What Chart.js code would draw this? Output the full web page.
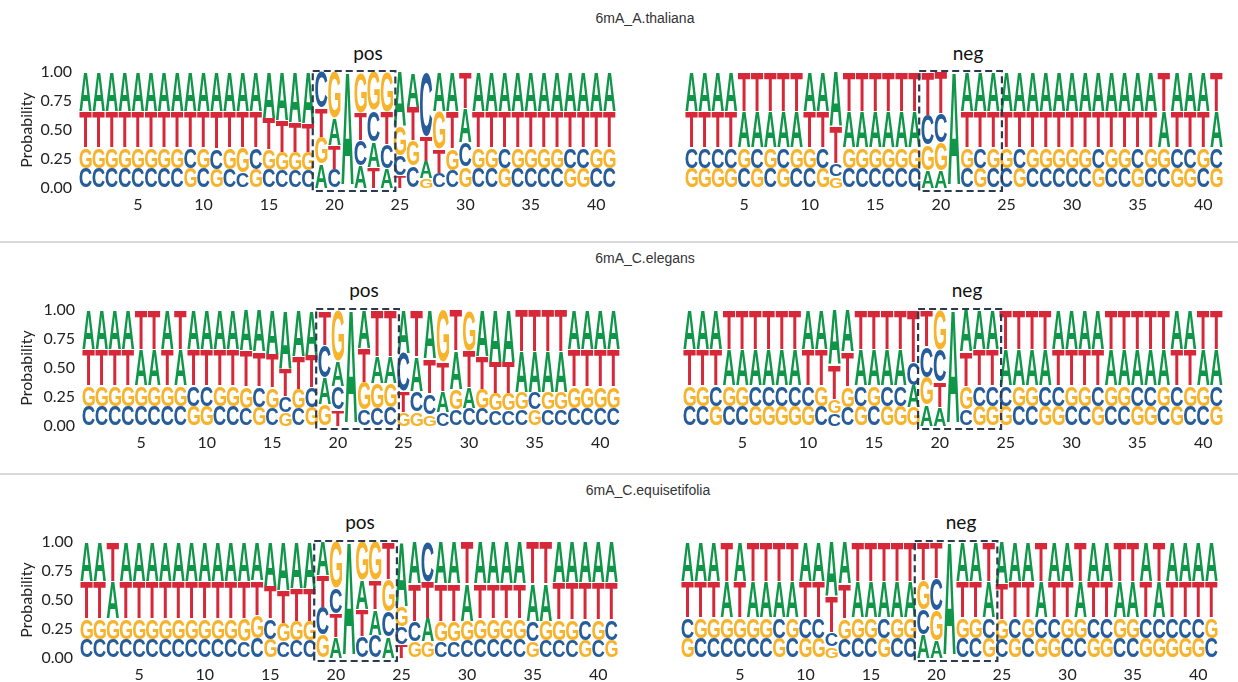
<!DOCTYPE html>
<html><head><meta charset="utf-8">
<script src="https://cdn.jsdelivr.net/npm/chart.js@4.4.1/dist/chart.umd.min.js"></script>
<style>
body{margin:0;background:#fff;width:1238px;height:682px;overflow:hidden;position:relative;font-family:Lato,"Open Sans",sans-serif;}
.pbox{position:absolute;}
.title{position:absolute;font-family:"Liberation Sans",Arial,sans-serif;font-size:14px;line-height:14px;color:#333;transform:translate(-50%,-50%);white-space:nowrap}
.sub{position:absolute;font-family:Lato,sans-serif;font-size:19px;line-height:19px;color:#111;transform:translate(-50%,-50%);white-space:nowrap}
.sep{position:absolute;left:0;width:1238px;height:2px;background:#d9d9d9}
</style></head><body>
<script>
// ---------- data ----------
const positions = Array.from({length:41},(_,i)=>String(i+1));
const xTickLabels = ['5','10','15','20','25','30','35','40'];
const yTickLabels = ['0.00','0.25','0.50','0.75','1.00'];
const panelTitles = ['6mA_A.thaliana','6mA_C.elegans','6mA_C.equisetifolia'];
const subTitles = ['pos','neg'];

// 6mA_A.thaliana pos
const athPosA = [.34,.34,.34,.34,.34,.34,.34,.34,.34,.34,.34,.34,.34,.34,.40,.42,.43,.44,.21,.23,.97,.19,.22,.17,.47,.30,.15,.34,.34,.30,.34,.34,.34,.34,.34,.34,.34,.34,.34,.34,.34];
const athPosC = [.17,.17,.17,.17,.17,.17,.17,.17,.18,.17,.18,.16,.13,.19,.16,.15,.15,.15,.31,.16,.01,.22,.27,.21,.17,.19,.55,.13,.15,.21,.17,.17,.18,.17,.17,.17,.17,.18,.18,.17,.17];
const athPosG = [.18,.18,.18,.18,.18,.18,.18,.18,.17,.18,.16,.19,.22,.16,.17,.16,.16,.16,.23,.40,.01,.35,.33,.34,.25,.22,.08,.32,.19,.18,.18,.18,.17,.18,.18,.18,.18,.17,.17,.18,.18];
const athPosT = [.31,.31,.31,.31,.31,.31,.31,.31,.31,.31,.32,.31,.31,.31,.27,.27,.26,.25,.25,.21,.01,.24,.18,.28,.11,.29,.22,.21,.32,.31,.31,.31,.31,.31,.31,.31,.31,.31,.31,.31,.31];
// 6mA_A.thaliana neg
const athNegA = [.34,.34,.34,.34,.31,.31,.31,.31,.31,.34,.34,.47,.31,.31,.31,.31,.31,.31,.15,.15,.97,.34,.34,.34,.34,.34,.34,.34,.34,.34,.34,.34,.34,.34,.34,.34,.31,.34,.34,.34,.31];
const athNegC = [.18,.18,.18,.18,.17,.18,.17,.18,.17,.17,.18,.11,.17,.17,.17,.17,.17,.17,.26,.25,.01,.17,.18,.17,.17,.18,.17,.17,.17,.17,.17,.18,.17,.17,.18,.17,.17,.18,.18,.17,.18];
const athNegG = [.17,.17,.17,.17,.18,.17,.18,.17,.18,.18,.17,.10,.18,.18,.18,.18,.18,.18,.22,.24,.01,.18,.17,.18,.18,.17,.18,.18,.18,.18,.18,.17,.18,.18,.17,.18,.18,.17,.17,.18,.17];
const athNegT = [.31,.31,.31,.31,.34,.34,.34,.34,.34,.31,.31,.32,.34,.34,.34,.34,.34,.34,.37,.36,.01,.31,.31,.31,.31,.31,.31,.31,.31,.31,.31,.31,.31,.31,.31,.31,.34,.31,.31,.31,.34];
// 6mA_C.elegans pos
const celPosA = [.34,.34,.34,.34,.31,.31,.34,.31,.34,.34,.34,.34,.35,.36,.38,.50,.40,.39,.23,.22,.97,.33,.23,.23,.37,.30,.42,.18,.33,.18,.40,.45,.45,.35,.35,.35,.35,.34,.34,.34,.34];
const celPosC = [.17,.17,.17,.17,.17,.17,.17,.17,.18,.18,.17,.17,.15,.18,.15,.14,.15,.17,.28,.20,.01,.14,.15,.16,.33,.18,.18,.12,.14,.15,.15,.13,.13,.14,.15,.14,.14,.15,.15,.15,.15];
const celPosG = [.18,.18,.18,.18,.18,.18,.18,.18,.17,.17,.18,.18,.19,.16,.18,.12,.17,.16,.19,.44,.01,.24,.22,.21,.12,.12,.10,.45,.18,.35,.17,.15,.15,.15,.14,.15,.15,.19,.19,.19,.19];
const celPosT = [.31,.31,.31,.31,.34,.34,.31,.34,.31,.31,.31,.31,.31,.30,.29,.24,.28,.28,.30,.14,.01,.29,.40,.40,.18,.40,.30,.25,.35,.32,.28,.27,.27,.36,.36,.36,.36,.32,.32,.32,.32];
// 6mA_C.elegans neg
const celNegA = [.34,.34,.34,.31,.31,.31,.31,.31,.31,.34,.34,.47,.36,.31,.31,.31,.31,.19,.18,.16,.97,.36,.34,.34,.31,.31,.31,.31,.34,.34,.34,.34,.31,.31,.31,.31,.31,.34,.34,.31,.31];
const celNegC = [.17,.17,.18,.17,.17,.18,.18,.18,.18,.18,.17,.11,.16,.18,.17,.18,.18,.20,.27,.28,.01,.14,.18,.18,.18,.17,.17,.18,.18,.17,.17,.18,.17,.17,.18,.18,.17,.18,.17,.17,.18];
const celNegG = [.18,.18,.17,.18,.18,.17,.17,.17,.17,.17,.18,.12,.18,.17,.18,.17,.17,.16,.24,.34,.01,.20,.17,.17,.17,.18,.18,.17,.17,.18,.18,.17,.18,.18,.17,.17,.18,.17,.18,.18,.17];
const celNegT = [.31,.31,.31,.34,.34,.34,.34,.34,.34,.31,.31,.30,.30,.34,.34,.34,.34,.45,.31,.22,.01,.30,.31,.31,.34,.34,.34,.34,.31,.31,.31,.31,.34,.34,.34,.34,.34,.31,.31,.34,.34];
// 6mA_C.equisetifolia pos
const equPosA = [.34,.34,.32,.34,.34,.34,.34,.34,.34,.34,.34,.34,.34,.33,.38,.42,.40,.40,.29,.18,.97,.25,.22,.18,.55,.36,.20,.36,.36,.32,.36,.36,.36,.36,.32,.32,.35,.35,.35,.35,.35];
const equPosC = [.16,.16,.16,.16,.16,.16,.16,.16,.16,.16,.16,.16,.14,.17,.18,.14,.15,.15,.24,.22,.01,.19,.20,.22,.15,.18,.34,.14,.14,.15,.16,.16,.16,.16,.18,.15,.15,.15,.18,.15,.18];
const equPosG = [.18,.18,.18,.18,.18,.18,.18,.18,.18,.18,.18,.18,.20,.20,.16,.16,.17,.17,.20,.40,.01,.33,.33,.28,.18,.14,.14,.18,.18,.17,.18,.18,.18,.18,.14,.17,.18,.18,.15,.18,.15];
const equPosT = [.32,.32,.34,.32,.32,.32,.32,.32,.32,.32,.32,.32,.32,.30,.28,.28,.28,.28,.27,.20,.01,.23,.25,.32,.12,.32,.32,.32,.32,.36,.30,.30,.30,.30,.36,.36,.32,.32,.32,.32,.32];
// 6mA_C.equisetifolia neg
const equNegA = [.34,.34,.34,.31,.34,.31,.31,.31,.31,.34,.34,.47,.36,.31,.31,.31,.31,.31,.20,.15,.97,.34,.34,.31,.36,.34,.34,.31,.34,.34,.31,.34,.34,.31,.31,.34,.31,.34,.34,.34,.34];
const equNegC = [.18,.17,.17,.17,.17,.17,.17,.18,.17,.18,.18,.12,.16,.17,.17,.18,.17,.17,.22,.28,.01,.17,.17,.18,.16,.18,.17,.18,.18,.17,.17,.18,.18,.17,.17,.18,.18,.18,.18,.18,.17];
const equNegG = [.17,.18,.18,.18,.18,.18,.18,.17,.18,.17,.17,.10,.18,.18,.18,.17,.18,.18,.25,.26,.01,.18,.18,.17,.17,.17,.18,.17,.17,.18,.18,.17,.17,.18,.18,.17,.17,.17,.17,.17,.18];
const equNegT = [.31,.31,.31,.34,.31,.34,.34,.34,.34,.31,.31,.31,.30,.34,.34,.34,.34,.34,.33,.31,.01,.31,.31,.34,.31,.31,.31,.34,.31,.31,.34,.31,.31,.34,.34,.31,.34,.31,.31,.31,.31];

const letterColors = {A:'#109648', C:'#255C99', G:'#F7B32B', T:'#D62839'};
const boxFrom = 19, boxTo = 24;

// ---------- layout ----------
const panels = [
  {d:[athPosA,athPosC,athPosG,athPosT], area:{l:79,t:72,r:616,b:188}, axis:true},
  {d:[athNegA,athNegC,athNegG,athNegT], area:{l:685,t:72,r:1223,b:188}, axis:false},
  {d:[celPosA,celPosC,celPosG,celPosT], area:{l:82,t:310,r:620,b:426}, axis:true},
  {d:[celNegA,celNegC,celNegG,celNegT], area:{l:683,t:310,r:1223,b:426}, axis:false},
  {d:[equPosA,equPosC,equPosG,equPosT], area:{l:80,t:542,r:618,b:658}, axis:true},
  {d:[equNegA,equNegC,equNegG,equNegT], area:{l:681,t:542,r:1218,b:658}, axis:false}
];
const titlePos = [[645,18],[645,258],[648,490]];
const subPos = [[[368,52],[968,52]],[[364,289],[967,289]],[[360,521],[961,521]]];
const sepY = [241,473];
const PADT = 22;

function addDiv(cls, txt, x, y){
  const d=document.createElement('div'); d.className=cls; d.textContent=txt;
  d.style.left=x+'px'; d.style.top=y+'px'; document.body.appendChild(d);
}
panelTitles.forEach((t,i)=>addDiv('title',t,titlePos[i][0],titlePos[i][1]));
subPos.forEach(r=>r.forEach((p,j)=>addDiv('sub',subTitles[j],p[0],p[1])));
sepY.forEach(y=>{const s=document.createElement('div');s.className='sep';s.style.top=y+'px';document.body.appendChild(s);});

const metricsCache={};
function drawLetter(ctx, ch, x, y, w, h){
  ctx.font='bold 100px "Liberation Sans", Arial, sans-serif';
  let m=metricsCache[ch];
  if(!m){const t=ctx.measureText(ch); m={l:t.actualBoundingBoxLeft,r:t.actualBoundingBoxRight,a:t.actualBoundingBoxAscent,d:t.actualBoundingBoxDescent}; metricsCache[ch]=m;}
  const gw=m.l+m.r, gh=m.a+m.d;
  ctx.save();
  ctx.translate(x,y);
  ctx.scale(w/gw,h/gh);
  ctx.fillStyle=letterColors[ch];
  ctx.textBaseline='alphabetic'; ctx.textAlign='left';
  ctx.fillText(ch,m.l,m.a);
  ctx.restore();
}

const logoPlugin={
  id:'logo',
  afterDatasetsDraw(chart){
    const ctx=chart.ctx; const L=chart.canvas.$letters;
    if(!L) return;
    chart.data.datasets.forEach((ds,di)=>{
      const meta=chart.getDatasetMeta(di);
      meta.data.forEach((el,i)=>{
        const p=el.getProps(['x','y','base','width'],true);
        const top=Math.min(p.y,p.base), h=Math.abs(p.base-p.y);
        if(h<2) return;
        drawLetter(ctx,L[di][i],p.x-p.width/2,top+0.3,p.width,h-0.6);
      });
    });
    // dashed box
    const xs=chart.scales.x, ys=chart.scales.y;
    const cw=xs.getPixelForValue(1)-xs.getPixelForValue(0);
    const l=xs.getPixelForValue(boxFrom-1)-cw/2-2, r=xs.getPixelForValue(boxTo-1)+cw/2+2;
    const t=ys.getPixelForValue(1)-1, b=ys.getPixelForValue(0)+3;
    ctx.save(); ctx.strokeStyle='#2b3a4c'; ctx.lineWidth=2.2; ctx.setLineDash([7,4]);
    ctx.strokeRect(l,t,r-l,b-t); ctx.restore();
  }
};

panels.forEach((pn,pi)=>{
  const a=pn.area;
  const left = pn.axis?0:a.l-10;
  const top=a.t-PADT;
  const width=(a.r+10)-left, height=(a.b+36)-top;
  const box=document.createElement('div'); box.className='pbox';
  Object.assign(box.style,{left:left+'px',top:top+'px',width:width+'px',height:height+'px'});
  const cv=document.createElement('canvas'); box.appendChild(cv); document.body.appendChild(box);
  // sort letters per position: smallest at bottom
  const names=['A','C','G','T'];
  const rankVals=[[],[],[],[]], rankLet=[[],[],[],[]];
  positions.forEach((_,i)=>{
    const arr=names.map((n,k)=>({n,v:pn.d[k][i]})).sort((p,q)=>p.v-q.v);
    arr.forEach((o,k)=>{rankVals[k].push(o.v); rankLet[k].push(o.n);});
  });
  cv.$letters=rankLet;
  const yScale={stacked:true,display:pn.axis,min:0,max:1,grid:{display:false,drawTicks:false},border:{display:false},
    ticks:{stepSize:0.25,padding:7,color:'#222',font:{family:'Lato',size:16},callback:v=>yTickLabels[Math.round(v*4)]},
    title:{display:true,text:'Probability',color:'#222',font:{family:'Lato',size:16},padding:{top:17,bottom:0}}};
  if(pn.axis) yScale.afterFit=s=>{s.width=a.l;};
  new Chart(cv,{
    type:'bar',
    data:{labels:positions, datasets:rankVals.map(v=>({data:v,backgroundColor:'rgba(0,0,0,0)',borderWidth:0,categoryPercentage:1,barPercentage:0.94}))},
    options:{
      responsive:true, maintainAspectRatio:false, animation:false, devicePixelRatio:1,
      layout:{padding:{left:pn.axis?0:10,top:PADT,right:10,bottom:0}},
      plugins:{legend:{display:false},tooltip:{enabled:false},title:{display:false}},
      scales:{
        x:{stacked:true,offset:true,grid:{display:false,drawTicks:false},border:{display:false},
           ticks:{autoSkip:false,maxRotation:0,padding:7,color:'#222',font:{family:'Lato',size:16},
             callback:(v,i)=>xTickLabels.includes(positions[i])?positions[i]:''},
           afterFit:s=>{s.height=36;}},
        y:yScale
      }
    },
    plugins:[logoPlugin]
  });
});
</script>
</body></html>
